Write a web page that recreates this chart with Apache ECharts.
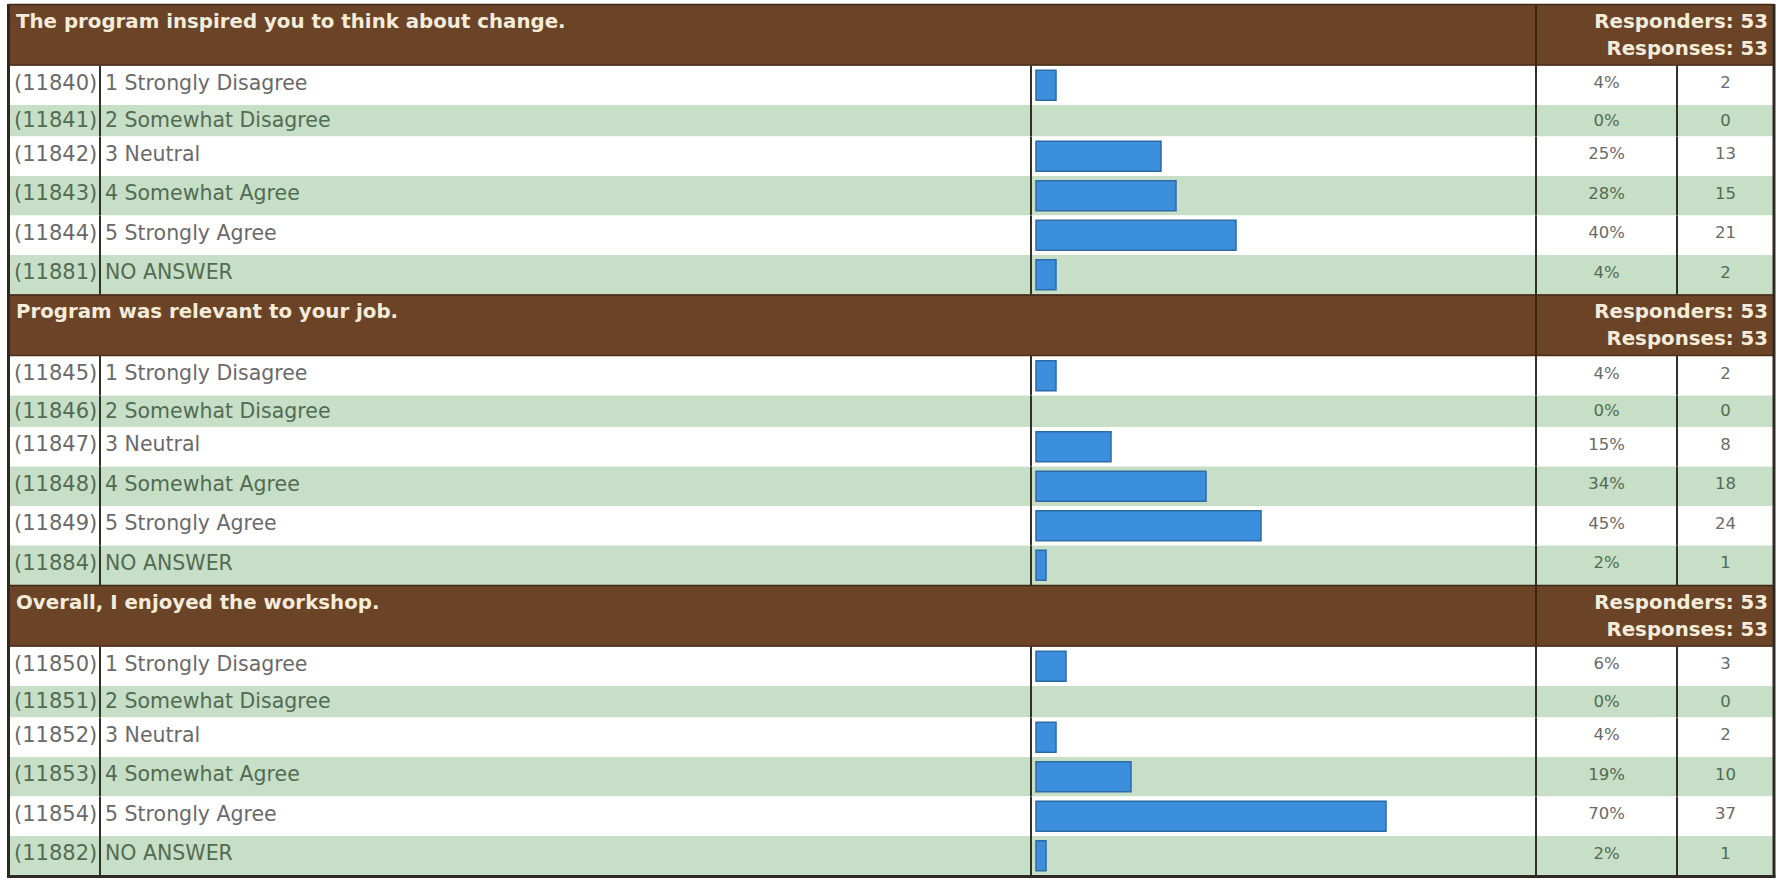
<!DOCTYPE html>
<html>
<head>
<meta charset="utf-8">
<script src="https://cdn.jsdelivr.net/npm/echarts@6/dist/echarts.min.js"></script>
<style>
html,body{margin:0;padding:0;background:#ffffff;}
#chart{width:1782px;height:879px;}
</style>
</head>
<body>
<div id="chart"></div>
<script>
// ---------------- DATA ----------------
const questions = [
  "The program inspired you to think about change.",
  "Program was relevant to your job.",
  "Overall, I enjoyed the workshop."
];
const responders = [53, 53, 53];
const responses = [53, 53, 53];
const answerLabels = [
  "1 Strongly Disagree",
  "2 Somewhat Disagree",
  "3 Neutral",
  "4 Somewhat Agree",
  "5 Strongly Agree",
  "NO ANSWER"
];
const answerIds = [
  [11840, 11841, 11842, 11843, 11844, 11881],
  [11845, 11846, 11847, 11848, 11849, 11884],
  [11850, 11851, 11852, 11853, 11854, 11882]
];
const percents = [
  [4, 0, 25, 28, 40, 4],
  [4, 0, 15, 34, 45, 2],
  [6, 0, 4, 19, 70, 2]
];
const counts = [
  [2, 0, 13, 15, 21, 2],
  [2, 0, 8, 18, 24, 1],
  [3, 0, 2, 10, 37, 1]
];

// ---------------- LAYOUT / STYLE ----------------
const TABLE_LEFT = 9, TABLE_RIGHT = 1774, TABLE_TOP = 4;
const HEADER_H = 61.5, ROW_H = 39.5, EMPTY_ROW_H = 31.5;
const COL_ID_END = 100, COL_LABEL_END = 1031, COL_BAR_END = 1536, COL_PCT_END = 1677;
const BAR_LEFT = 1036, BAR_FULL_W = 500, BAR_H = 30;
const BROWN = '#6b4326', HEADER_TEXT = '#f4ecdb';
const ROW_GREEN = '#c6dfc6', ROW_WHITE = '#ffffff';
const TEXT_GRAY = '#6a6a6a', TEXT_GREEN = '#536b53';
const LINE_DARK = '#33302a';
const BAR_FILL = '#3c8fdd', BAR_EDGE = '#2d6aa6';
const FONT = '"DejaVu Sans", Verdana, sans-serif';

// build row layout (header rows + answer rows), cumulative in table units
const headerItems = [], answerItems = [], answerMeta = [];
let cursor = 0;
questions.forEach(function (q, b) {
  headerItems.push([cursor, cursor + HEADER_H]);
  cursor += HEADER_H;
  answerLabels.forEach(function (lab, i) {
    const h = counts[b][i] > 0 ? ROW_H : EMPTY_ROW_H;
    answerItems.push([cursor, cursor + h, percents[b][i]]);
    answerMeta.push({ b: b, i: i });
    cursor += h;
  });
});
const TOTAL_H = cursor;

function txt(x, y, text, opt) {
  return {
    type: 'text',
    x: x, y: y,
    style: Object.assign({
      text: text,
      fontFamily: FONT,
      fontSize: 20.5,
      fill: TEXT_GRAY,
      align: 'left',
      verticalAlign: 'middle'
    }, opt || {})
  };
}
function vline(x, y0, y1, w, color) {
  return { type: 'line', shape: { x1: x, y1: y0, x2: x, y2: y1 },
           style: { stroke: color || LINE_DARK, lineWidth: w || 2 } };
}

function renderAnswerRow(params, api) {
  const m = answerMeta[params.dataIndex];
  const p0 = api.coord([TABLE_LEFT, api.value(0)]);
  const p1 = api.coord([TABLE_RIGHT, api.value(1)]);
  const x0 = p0[0], x1 = p1[0], y0 = p0[1], y1 = p1[1];
  const hasBar = api.value(2) > 0;
  const cy = (y0 + y1) / 2 + (hasBar ? -2.5 : -0.5);
  const green = m.i % 2 === 1;
  const color = green ? TEXT_GREEN : TEXT_GRAY;
  const X = function (v) { return api.coord([v, 0])[0]; };
  return {
    type: 'group',
    children: [
      { type: 'rect', shape: { x: x0, y: y0, width: x1 - x0, height: y1 - y0 },
        style: { fill: green ? ROW_GREEN : ROW_WHITE } },
      txt(X(14), cy, '(' + answerIds[m.b][m.i] + ')', { fill: color, fontSize: 21 }),
      txt(X(105), cy, answerLabels[m.i], { fill: color }),
      txt((X(COL_BAR_END) + X(COL_PCT_END)) / 2, cy, percents[m.b][m.i] + '%',
          { fill: color, fontSize: 16.5, align: 'center' }),
      txt((X(COL_PCT_END) + X(TABLE_RIGHT)) / 2, cy, String(counts[m.b][m.i]),
          { fill: color, fontSize: 16.5, align: 'center' }),
      vline(X(COL_ID_END), y0, y1),
      vline(X(COL_LABEL_END), y0, y1),
      vline(X(COL_BAR_END), y0, y1),
      vline(X(COL_PCT_END), y0, y1)
    ]
  };
}

function renderHeader(params, api) {
  const b = params.dataIndex;
  const p0 = api.coord([TABLE_LEFT, api.value(0)]);
  const p1 = api.coord([TABLE_RIGHT, api.value(1)]);
  const x0 = p0[0], x1 = p1[0], y0 = p0[1], y1 = p1[1];
  const X = function (v) { return api.coord([v, 0])[0]; };
  const bold = { fill: HEADER_TEXT, fontWeight: 'bold', fontSize: 19.8 };
  return {
    type: 'group',
    children: [
      { type: 'rect', shape: { x: x0, y: y0, width: x1 - x0, height: y1 - y0 },
        style: { fill: BROWN } },
      { type: 'line', shape: { x1: x0, y1: y0 + 0.5, x2: x1, y2: y0 + 0.5 },
        style: { stroke: '#3e2714', lineWidth: 1.5 } },
      { type: 'line', shape: { x1: x0, y1: y1 - 0.5, x2: x1, y2: y1 - 0.5 },
        style: { stroke: '#4a2e18', lineWidth: 1.5 } },
      vline(X(COL_BAR_END), y0, y1, 2, '#3a2614'),
      txt(X(16), y0 + 17, questions[b], bold),
      txt(X(TABLE_RIGHT) - 6, y0 + 17, 'Responders: ' + responders[b], Object.assign({ align: 'right' }, bold)),
      txt(X(TABLE_RIGHT) - 6, y0 + 44, 'Responses: ' + responses[b], Object.assign({ align: 'right' }, bold))
    ]
  };
}

function renderBar(params, api) {
  const v = api.value(2);
  if (!(v > 0)) return { type: 'group', children: [] };
  const top = api.value(0), bottom = api.value(1);
  const yc = api.coord([0, (top + bottom) / 2])[1];
  const a = api.coord([0, 0])[0];
  const b = api.coord([v, 0])[0];
  return {
    type: 'rect',
    shape: { x: a, y: yc - BAR_H / 2, width: b - a, height: BAR_H },
    style: { fill: BAR_FILL, stroke: BAR_EDGE, lineWidth: 1.5 }
  };
}

function renderFrame(params, api) {
  const cs = params.coordSys;
  return {
    type: 'group',
    children: [
      vline(cs.x - 0.5, cs.y, cs.y + cs.height + 2, 3, '#2e2a22'),
      vline(cs.x + cs.width, cs.y, cs.y + cs.height + 2, 3, '#2e2a22'),
      { type: 'line', shape: { x1: cs.x - 2, y1: cs.y + cs.height + 1, x2: cs.x + cs.width + 1.5, y2: cs.y + cs.height + 1 },
        style: { stroke: '#2e2a22', lineWidth: 3 } }
    ]
  };
}

const chart = echarts.init(document.getElementById('chart'), null, { renderer: 'svg' });
chart.setOption({
  animation: false,
  backgroundColor: '#ffffff',
  grid: [
    { left: TABLE_LEFT, top: TABLE_TOP, width: TABLE_RIGHT - TABLE_LEFT, height: TOTAL_H },
    { left: BAR_LEFT, top: TABLE_TOP, width: BAR_FULL_W, height: TOTAL_H }
  ],
  xAxis: [
    { gridIndex: 0, type: 'value', min: TABLE_LEFT, max: TABLE_RIGHT, show: false },
    { gridIndex: 1, type: 'value', min: 0, max: 100, show: false }
  ],
  yAxis: [
    { gridIndex: 0, type: 'value', min: 0, max: TOTAL_H, inverse: true, show: false },
    { gridIndex: 1, type: 'value', min: 0, max: TOTAL_H, inverse: true, show: false }
  ],
  series: [
    { type: 'custom', name: 'rows', xAxisIndex: 0, yAxisIndex: 0, z: 1,
      renderItem: renderAnswerRow, data: answerItems, clip: false, silent: true },
    { type: 'custom', name: 'headers', xAxisIndex: 0, yAxisIndex: 0, z: 2,
      renderItem: renderHeader, data: headerItems, clip: false, silent: true },
    { type: 'custom', name: 'percent', xAxisIndex: 1, yAxisIndex: 1, z: 3,
      renderItem: renderBar, data: answerItems, clip: false, silent: true },
    { type: 'custom', name: 'frame', xAxisIndex: 0, yAxisIndex: 0, z: 4,
      renderItem: renderFrame, data: [[0, TOTAL_H]], clip: false, silent: true }
  ]
});
</script>
</body>
</html>
